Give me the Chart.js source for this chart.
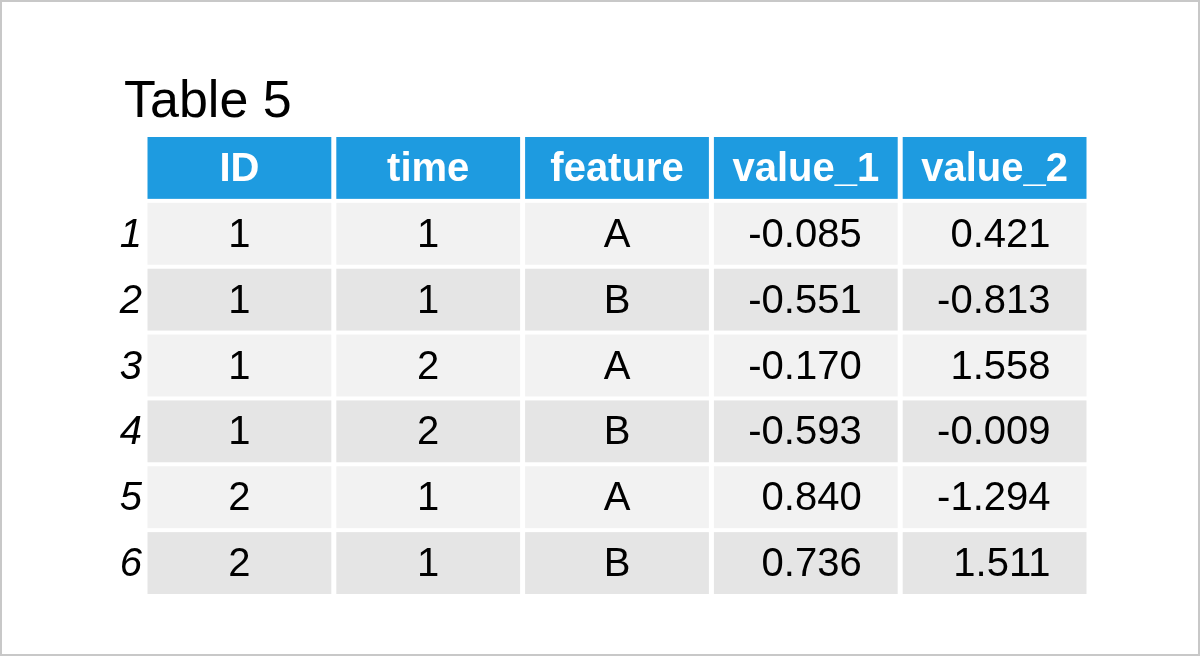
<!DOCTYPE html>
<html>
<head>
<meta charset="utf-8">
<script src="https://cdn.jsdelivr.net/npm/chart.js@4"></script>
<style>
  body { margin: 0; background: #fff; }
  canvas { display: block; }
</style>
</head>
<body>
<canvas id="canvas" width="1200" height="656"></canvas>
<script>
var title = 'Table 5';
var columns = ['ID', 'time', 'feature', 'value_1', 'value_2'];
var rowNames = ['1', '2', '3', '4', '5', '6'];
var ids = ['1', '1', '1', '1', '2', '2'];
var times = ['1', '1', '2', '2', '1', '1'];
var features = ['A', 'B', 'A', 'B', 'A', 'B'];
var value1 = ['-0.085', '-0.551', '-0.170', '-0.593', '0.840', '0.736'];
var value2 = ['0.421', '-0.813', '1.558', '-0.009', '-1.294', '1.511'];

var tableRows = ['header'].concat(rowNames);
var body = [ids, times, features, value1, value2];
var numeric = [false, false, false, true, true];

var tablePlugin = {
  id: 'table',
  beforeDraw: function(chart) {
    var ctx = chart.ctx;
    var x = chart.scales.x, y = chart.scales.y;
    var cw = x.width / columns.length, ch = y.height / tableRows.length;
    ctx.save();
    ctx.fillStyle = '#fff';
    ctx.fillRect(0, 0, chart.width, chart.height);
    ctx.strokeStyle = '#c8c8c8';
    ctx.lineWidth = 2;
    ctx.strokeRect(1, 1, chart.width - 2, chart.height - 2);

    ctx.fillStyle = '#000';
    ctx.font = '52px "Liberation Sans", Arial, sans-serif';
    ctx.textBaseline = 'alphabetic';
    ctx.textAlign = 'left';
    ctx.fillText(title, 124, 117);

    ctx.textBaseline = 'middle';
    tableRows.forEach(function(r, i) {
      var cy = y.getPixelForValue(i);
      var top = cy - ch / 2 + 2, h = ch - 4;
      if (i > 0) {
        ctx.fillStyle = '#000';
        ctx.font = 'italic 40px "Liberation Sans", Arial, sans-serif';
        ctx.textAlign = 'right';
        ctx.fillText(r, x.left - 3, cy + 2);
      }
      columns.forEach(function(c, j) {
        var cx = x.getPixelForValue(j);
        var left = cx - cw / 2 + 2.5, w = cw - 5;
        ctx.fillStyle = i === 0 ? '#1e9be0' : (i % 2 === 1 ? '#f2f2f2' : '#e5e5e5');
        ctx.fillRect(left, top, w, h);
        if (i === 0) {
          ctx.fillStyle = '#fff';
          ctx.font = 'bold 40px "Liberation Sans", Arial, sans-serif';
          ctx.textAlign = 'center';
          ctx.fillText(c, cx, cy + 2);
        } else {
          ctx.fillStyle = '#000';
          ctx.font = '40px "Liberation Sans", Arial, sans-serif';
          var txt = body[j][i - 1];
          if (numeric[j]) {
            ctx.textAlign = 'right';
            ctx.fillText(txt, left + w - 36, cy + 2);
          } else {
            ctx.textAlign = 'center';
            ctx.fillText(txt, cx, cy + 2);
          }
        }
      });
    });
    ctx.restore();
  }
};

new Chart(document.getElementById('canvas').getContext('2d'), {
  type: 'bar',
  data: { labels: columns, datasets: [] },
  options: {
    responsive: false,
    animation: false,
    devicePixelRatio: 1,
    layout: { padding: { left: 145, right: 111, top: 135, bottom: 60 } },
    plugins: { legend: { display: false }, tooltip: { enabled: false } },
    scales: {
      x: { type: 'category', labels: columns, offset: true, display: false },
      y: { type: 'category', labels: tableRows, offset: true, display: false }
    }
  },
  plugins: [tablePlugin]
});
</script>
</body>
</html>
